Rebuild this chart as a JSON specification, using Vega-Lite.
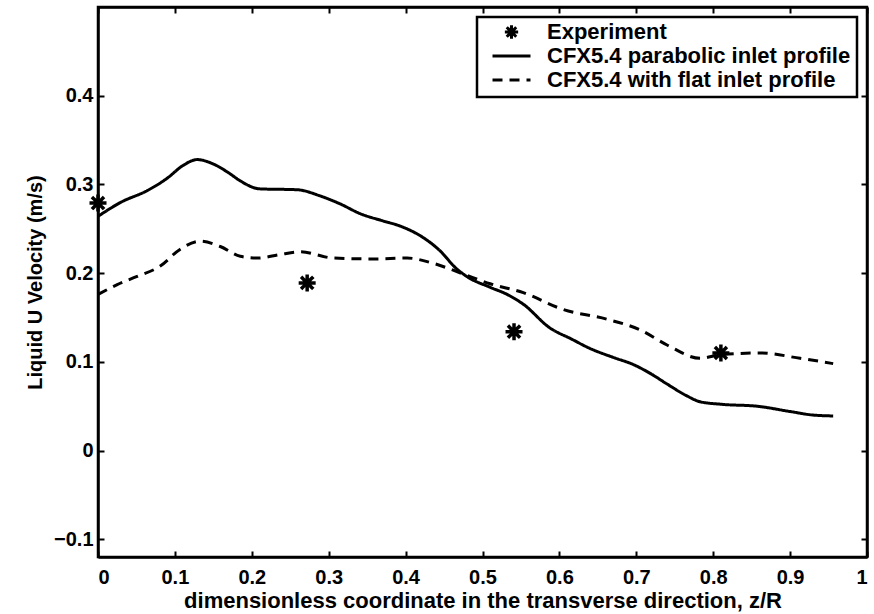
{
  "$schema": "https://vega.github.io/schema/vega-lite/v6.json",
  "width": 769,
  "height": 550,
  "autosize": "none",
  "padding": {"left": 98, "top": 7, "right": 7, "bottom": 57},
  "config": {
    "font": "Liberation Sans",
    "view": {"stroke": "black", "strokeWidth": 2.5},
    "axis": {
      "grid": false,
      "domain": true,
      "domainColor": "black",
      "domainWidth": 2.5,
      "ticks": true,
      "tickSize": -6,
      "tickWidth": 2,
      "tickColor": "black",
      "labelFont": "Liberation Sans",
      "labelFontSize": 20,
      "labelFontWeight": "bold",
      "labelColor": "black",
      "titleFont": "Liberation Sans",
      "titleFontSize": 22,
      "titleFontWeight": "bold",
      "titleColor": "black"
    },
    "legend": {
      "orient": "top-right",
      "offset": 10,
      "strokeColor": "black",
      "strokeWidth": 2.5,
      "fillColor": "white",
      "padding": 6,
      "rowPadding": 2,
      "clipHeight": 18,
      "symbolSize": 1444,
      "symbolOffset": 8,
      "symbolStrokeWidth": 3,
      "symbolStrokeColor": "black",
      "symbolFillColor": "transparent",
      "labelFont": "Liberation Sans",
      "labelFontSize": 22,
      "labelFontWeight": "bold",
      "labelColor": "black",
      "labelOffset": 15,
      "labelLimit": 0
    }
  },
  "layer": [
    {
      "data": {
        "values": [
          {"z": 0, "u": 0.264, "series": "CFX5.4 parabolic inlet profile"},
          {"z": 0.03, "u": 0.28, "series": "CFX5.4 parabolic inlet profile"},
          {"z": 0.064, "u": 0.293, "series": "CFX5.4 parabolic inlet profile"},
          {"z": 0.09, "u": 0.307, "series": "CFX5.4 parabolic inlet profile"},
          {"z": 0.11, "u": 0.321, "series": "CFX5.4 parabolic inlet profile"},
          {"z": 0.129, "u": 0.328, "series": "CFX5.4 parabolic inlet profile"},
          {"z": 0.15, "u": 0.323, "series": "CFX5.4 parabolic inlet profile"},
          {"z": 0.17, "u": 0.313, "series": "CFX5.4 parabolic inlet profile"},
          {"z": 0.185, "u": 0.304, "series": "CFX5.4 parabolic inlet profile"},
          {"z": 0.21, "u": 0.295, "series": "CFX5.4 parabolic inlet profile"},
          {"z": 0.259, "u": 0.294, "series": "CFX5.4 parabolic inlet profile"},
          {"z": 0.289, "u": 0.287, "series": "CFX5.4 parabolic inlet profile"},
          {"z": 0.315, "u": 0.278, "series": "CFX5.4 parabolic inlet profile"},
          {"z": 0.341, "u": 0.267, "series": "CFX5.4 parabolic inlet profile"},
          {"z": 0.37, "u": 0.259, "series": "CFX5.4 parabolic inlet profile"},
          {"z": 0.393, "u": 0.253, "series": "CFX5.4 parabolic inlet profile"},
          {"z": 0.423, "u": 0.24, "series": "CFX5.4 parabolic inlet profile"},
          {"z": 0.445, "u": 0.225, "series": "CFX5.4 parabolic inlet profile"},
          {"z": 0.465, "u": 0.206, "series": "CFX5.4 parabolic inlet profile"},
          {"z": 0.48, "u": 0.196, "series": "CFX5.4 parabolic inlet profile"},
          {"z": 0.51, "u": 0.184, "series": "CFX5.4 parabolic inlet profile"},
          {"z": 0.532, "u": 0.176, "series": "CFX5.4 parabolic inlet profile"},
          {"z": 0.553, "u": 0.165, "series": "CFX5.4 parabolic inlet profile"},
          {"z": 0.588, "u": 0.138, "series": "CFX5.4 parabolic inlet profile"},
          {"z": 0.615, "u": 0.126, "series": "CFX5.4 parabolic inlet profile"},
          {"z": 0.64, "u": 0.115, "series": "CFX5.4 parabolic inlet profile"},
          {"z": 0.67, "u": 0.105, "series": "CFX5.4 parabolic inlet profile"},
          {"z": 0.696, "u": 0.097, "series": "CFX5.4 parabolic inlet profile"},
          {"z": 0.72, "u": 0.086, "series": "CFX5.4 parabolic inlet profile"},
          {"z": 0.74, "u": 0.075, "series": "CFX5.4 parabolic inlet profile"},
          {"z": 0.765, "u": 0.062, "series": "CFX5.4 parabolic inlet profile"},
          {"z": 0.783, "u": 0.055, "series": "CFX5.4 parabolic inlet profile"},
          {"z": 0.813, "u": 0.052, "series": "CFX5.4 parabolic inlet profile"},
          {"z": 0.857, "u": 0.05, "series": "CFX5.4 parabolic inlet profile"},
          {"z": 0.9, "u": 0.044, "series": "CFX5.4 parabolic inlet profile"},
          {"z": 0.93, "u": 0.04, "series": "CFX5.4 parabolic inlet profile"},
          {"z": 0.956, "u": 0.039, "series": "CFX5.4 parabolic inlet profile"},
          {"z": 0, "u": 0.176, "series": "CFX5.4 with flat inlet profile"},
          {"z": 0.025, "u": 0.187, "series": "CFX5.4 with flat inlet profile"},
          {"z": 0.05, "u": 0.196, "series": "CFX5.4 with flat inlet profile"},
          {"z": 0.081, "u": 0.208, "series": "CFX5.4 with flat inlet profile"},
          {"z": 0.107, "u": 0.227, "series": "CFX5.4 with flat inlet profile"},
          {"z": 0.133, "u": 0.236, "series": "CFX5.4 with flat inlet profile"},
          {"z": 0.159, "u": 0.23, "series": "CFX5.4 with flat inlet profile"},
          {"z": 0.185, "u": 0.219, "series": "CFX5.4 with flat inlet profile"},
          {"z": 0.207, "u": 0.217, "series": "CFX5.4 with flat inlet profile"},
          {"z": 0.237, "u": 0.221, "series": "CFX5.4 with flat inlet profile"},
          {"z": 0.263, "u": 0.224, "series": "CFX5.4 with flat inlet profile"},
          {"z": 0.306, "u": 0.217, "series": "CFX5.4 with flat inlet profile"},
          {"z": 0.358, "u": 0.216, "series": "CFX5.4 with flat inlet profile"},
          {"z": 0.402, "u": 0.217, "series": "CFX5.4 with flat inlet profile"},
          {"z": 0.436, "u": 0.211, "series": "CFX5.4 with flat inlet profile"},
          {"z": 0.475, "u": 0.199, "series": "CFX5.4 with flat inlet profile"},
          {"z": 0.51, "u": 0.188, "series": "CFX5.4 with flat inlet profile"},
          {"z": 0.553, "u": 0.178, "series": "CFX5.4 with flat inlet profile"},
          {"z": 0.605, "u": 0.159, "series": "CFX5.4 with flat inlet profile"},
          {"z": 0.662, "u": 0.148, "series": "CFX5.4 with flat inlet profile"},
          {"z": 0.705, "u": 0.136, "series": "CFX5.4 with flat inlet profile"},
          {"z": 0.74, "u": 0.119, "series": "CFX5.4 with flat inlet profile"},
          {"z": 0.783, "u": 0.104, "series": "CFX5.4 with flat inlet profile"},
          {"z": 0.809, "u": 0.108, "series": "CFX5.4 with flat inlet profile"},
          {"z": 0.861, "u": 0.11, "series": "CFX5.4 with flat inlet profile"},
          {"z": 0.913, "u": 0.104, "series": "CFX5.4 with flat inlet profile"},
          {"z": 0.956, "u": 0.098, "series": "CFX5.4 with flat inlet profile"}
        ]
      },
      "mark": {"type": "line", "interpolate": "monotone", "strokeWidth": 3, "color": "black"},
      "encoding": {
        "x": {
          "field": "z", "type": "quantitative",
          "scale": {"domain": [0, 1], "nice": false, "zero": false},
          "axis": {"orient": "bottom", "values": [0, 0.1, 0.2, 0.3, 0.4, 0.5, 0.6, 0.7, 0.8, 0.9, 1], "format": ".1~f", "labelPadding": 16, "titlePadding": 3, "title": "dimensionless coordinate in the transverse direction, z/R"}
        },
        "y": {
          "field": "u", "type": "quantitative",
          "scale": {"domain": [-0.12, 0.5], "nice": false, "zero": false},
          "axis": {"orient": "left", "values": [-0.1, 0, 0.1, 0.2, 0.3, 0.4], "format": ".1~f", "labelPadding": 11, "titlePadding": 8, "title": "Liquid U Velocity (m/s)", "titleFontSize": 20}
        },
        "detail": {"field": "series"},
        "strokeDash": {
          "field": "series", "type": "nominal",
          "scale": {"domain": ["Experiment", "CFX5.4 parabolic inlet profile", "CFX5.4 with flat inlet profile"], "range": [[1, 0], [1, 0], [10, 7]]},
          "legend": {"title": null}
        }
      }
    },
    {
      "data": {
        "values": [
          {"z": 0, "u": 0.279, "series": "Experiment"},
          {"z": 0.272, "u": 0.189, "series": "Experiment"},
          {"z": 0.541, "u": 0.134, "series": "Experiment"},
          {"z": 0.81, "u": 0.11, "series": "Experiment"}
        ]
      },
      "mark": {"type": "point", "filled": false, "size": 2360, "strokeWidth": 3.5, "color": "black", "opacity": 1},
      "encoding": {
        "x": {
          "field": "z", "type": "quantitative",
          "scale": {"domain": [0, 1], "nice": false, "zero": false},
          "axis": {"orient": "top", "values": [0, 0.1, 0.2, 0.3, 0.4, 0.5, 0.6, 0.7, 0.8, 0.9, 1], "labels": false, "title": null}
        },
        "y": {
          "field": "u", "type": "quantitative",
          "scale": {"domain": [-0.12, 0.5], "nice": false, "zero": false},
          "axis": {"orient": "right", "values": [-0.1, 0, 0.1, 0.2, 0.3, 0.4], "labels": false, "title": null}
        },
        "shape": {
          "field": "series", "type": "nominal",
          "scale": {"domain": ["Experiment", "CFX5.4 parabolic inlet profile", "CFX5.4 with flat inlet profile"], "range": ["M-0.35,0L0.35,0M0,-0.35L0,0.35M-0.25,-0.25L0.25,0.25M-0.25,0.25L0.25,-0.25", "stroke", "stroke"]},
          "legend": {"title": null}
        },
        "strokeDash": {
          "field": "series", "type": "nominal",
          "scale": {"domain": ["Experiment", "CFX5.4 parabolic inlet profile", "CFX5.4 with flat inlet profile"], "range": [[1, 0], [1, 0], [10, 7]]},
          "legend": {"title": null}
        }
      }
    }
  ],
  "resolve": {"axis": {"x": "independent", "y": "independent"}}
}
